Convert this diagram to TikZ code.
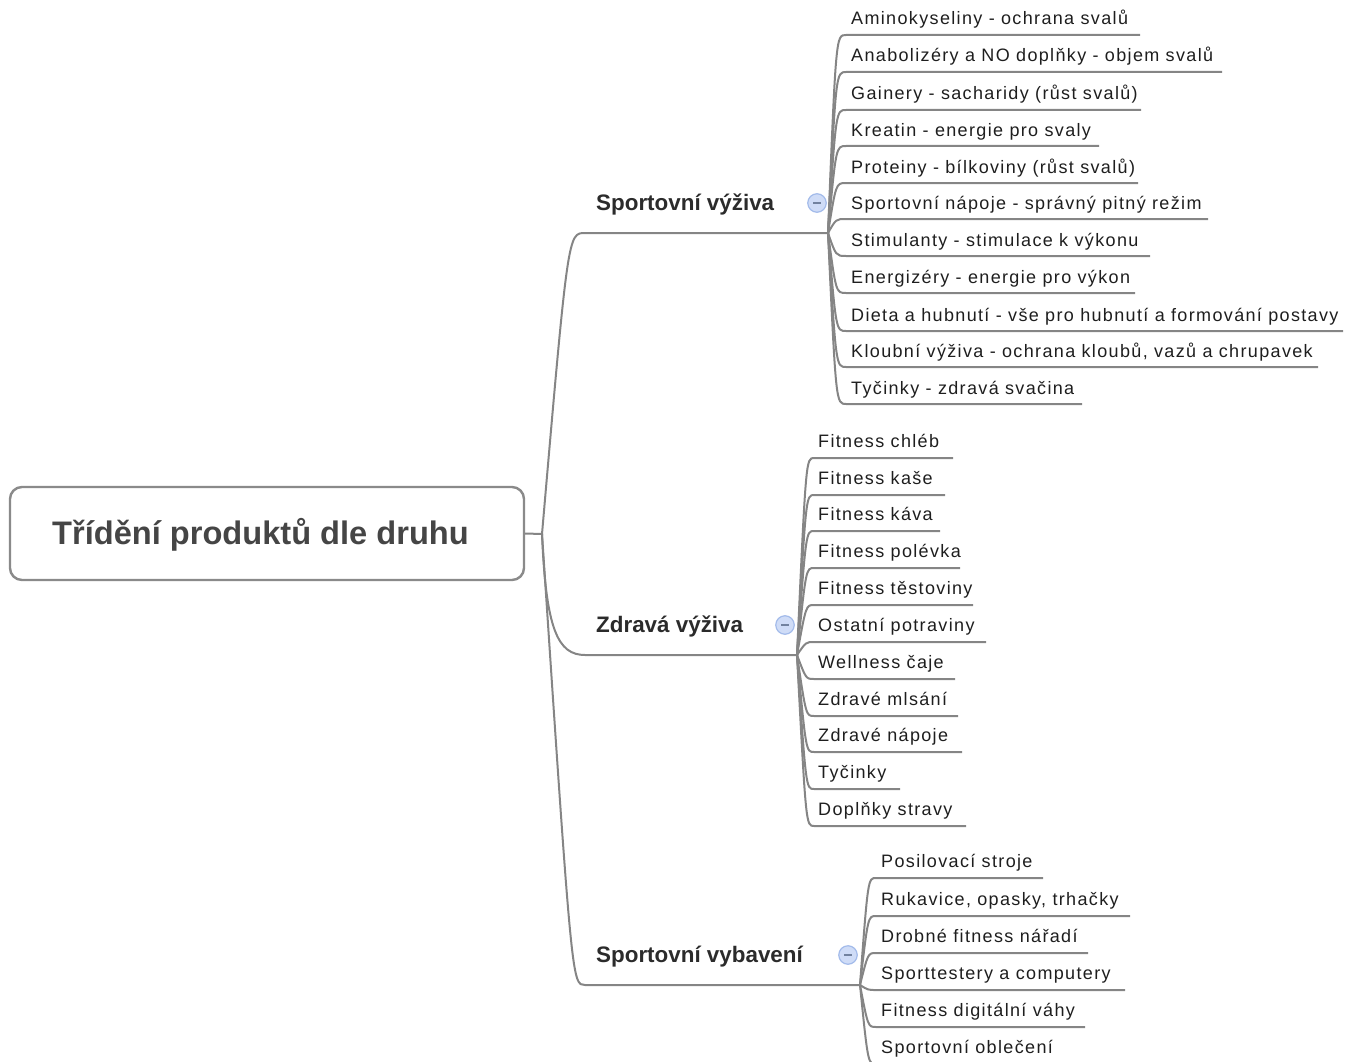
\documentclass[tikz,border=0pt]{standalone}
\usepackage{fontspec}
\setmainfont{Liberation Sans}
\newfontfamily\leaffont[LetterSpace=7.5]{Liberation Sans}
\usetikzlibrary{calc}
\definecolor{linegray}{HTML}{858585}
\definecolor{boxgray}{HTML}{8A8A8A}
\definecolor{titlegray}{HTML}{454545}
\definecolor{branchtext}{HTML}{2B2B2B}
\definecolor{leaftext}{HTML}{1E1E1E}
\definecolor{iconfill}{HTML}{CFDCF7}
\definecolor{iconedge}{HTML}{A3BBEA}
\definecolor{iconbar}{HTML}{72829F}
\tikzset{
  rootbox/.style={draw=boxgray, line width=2.4pt, rounded corners=12pt,
    minimum width=514pt, minimum height=93pt, inner sep=0pt},
  titletext/.style={font=\bfseries\fontsize{32.6}{36}\selectfont, text=titlegray,
    anchor=base west, inner sep=0pt},
  branchlabel/.style={font=\bfseries\fontsize{22.4}{26}\selectfont, text=branchtext,
    anchor=base west, inner sep=0pt},
  leaflabel/.style={font=\leaffont\fontsize{18}{21}\selectfont, text=leaftext,
    anchor=base west, inner sep=0pt},
  conn/.style={draw=linegray, line width=2pt},
  collapse/.style={circle, draw=iconedge, fill=iconfill, line width=1.2pt,
    minimum size=18.5pt, inner sep=0pt,
    path picture={\draw[iconbar, line width=2pt]
      ([xshift=-3.8pt]path picture bounding box.center) --
      ([xshift=3.8pt]path picture bounding box.center);}},
}
\begin{document}
\begin{tikzpicture}[x=1pt, y=-1pt]
\useasboundingbox (0,0) rectangle (1357,1062);

% central topic
\node[rootbox] (root) at (267,533.5) {};
\node[titletext] (title) at (52,544) {Třídění produktů dle druhu};
\coordinate (hub) at (542,534);
\draw[conn] (root.east) -- (hub);

% main branches
\coordinate (sv-start) at (585,233);
\coordinate (sv-end) at (828,233);
\coordinate (zv-start) at (585,655);
\coordinate (zv-end) at (797,655);
\coordinate (vb-start) at (585,985);
\coordinate (vb-end) at (860,985);

\draw[conn] (hub) .. controls (568,233) and (568,233) .. (sv-start) -- (sv-end);
\draw[conn] (hub) .. controls (546,630) and (558,655) .. (zv-start) -- (zv-end);
\draw[conn] (hub) .. controls (572,985) and (572,985) .. (vb-start) -- (vb-end);

\node[branchlabel] (sv) at (596,210) {Sportovní výživa};
\node[branchlabel] (zv) at (596,632) {Zdravá výživa};
\node[branchlabel] (vb) at (596,962) {Sportovní vybavení};

\node[collapse] (sv-icon) at (817,203) {};
\node[collapse] (zv-icon) at (785,625) {};
\node[collapse] (vb-icon) at (848,955) {};

% Sportovní výživa
\foreach \i/\y/\e/\t in {
  1/35/1140/{Aminokyseliny - ochrana svalů},
  2/72/1222/{Anabolizéry a NO doplňky - objem svalů},
  3/110/1141/{Gainery - sacharidy (růst svalů)},
  4/146/1099/{Kreatin - energie pro svaly},
  5/183/1138/{Proteiny - bílkoviny (růst svalů)},
  6/219/1208/{Sportovní nápoje - správný pitný režim},
  7/256/1150/{Stimulanty - stimulace k výkonu},
  8/293/1135/{Energizéry - energie pro výkon},
  9/331/1343/{Dieta a hubnutí - vše pro hubnutí a formování postavy},
  10/367/1318/{Kloubní výživa - ochrana kloubů, vazů a chrupavek},
  11/404/1082/{Tyčinky - zdravá svačina}} {
  \coordinate (sv-a\i) at (846,\y);
  \coordinate (sv-b\i) at (\e,\y);
  \node[leaflabel] (sv-t\i) at (851,\y-10) {\t};
  \draw[conn] (sv-end) .. controls (836,\y) and (836,\y) .. (sv-a\i) -- (sv-b\i);
}

% Zdravá výživa
\foreach \i/\y/\e/\t in {
  1/458/953/{Fitness chléb},
  2/495/945/{Fitness kaše},
  3/531/940/{Fitness káva},
  4/568/960/{Fitness polévka},
  5/605/973/{Fitness těstoviny},
  6/642/986/{Ostatní potraviny},
  7/679/955/{Wellness čaje},
  8/716/958/{Zdravé mlsání},
  9/752/962/{Zdravé nápoje},
  10/789/900/{Tyčinky},
  11/826/966/{Doplňky stravy}} {
  \coordinate (zv-a\i) at (814,\y);
  \coordinate (zv-b\i) at (\e,\y);
  \node[leaflabel] (zv-t\i) at (818,\y-11) {\t};
  \draw[conn] (zv-end) .. controls (806,\y) and (806,\y) .. (zv-a\i) -- (zv-b\i);
}

% Sportovní vybavení
\foreach \i/\y/\e/\t in {
  1/878/1043/{Posilovací stroje},
  2/916/1130/{Rukavice, opasky, trhačky},
  3/953/1088/{Drobné fitness nářadí},
  4/990/1125/{Sporttestery a computery},
  5/1027/1085/{Fitness digitální váhy},
  6/1064/1070/{Sportovní oblečení}} {
  \coordinate (vb-a\i) at (876,\y);
  \coordinate (vb-b\i) at (\e,\y);
  \node[leaflabel] (vb-t\i) at (881,\y-11) {\t};
  \draw[conn] (vb-end) .. controls (868,\y) and (868,\y) .. (vb-a\i) -- (vb-b\i);
}
\end{tikzpicture}
\end{document}
